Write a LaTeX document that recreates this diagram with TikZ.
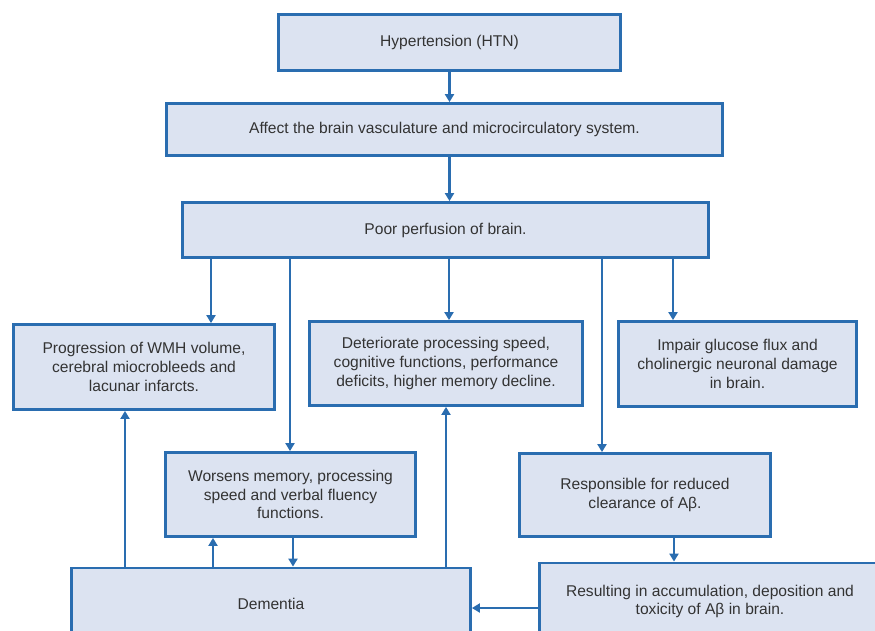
\documentclass[tikz,border=0pt]{standalone}
\usepackage{fontspec}
\setmainfont{Liberation Sans}
\usetikzlibrary{arrows.meta}
\definecolor{bord}{HTML}{2A6DB0}
\definecolor{fillc}{HTML}{DCE3F1}
\definecolor{txt}{HTML}{333333}
\begin{document}
\begin{tikzpicture}[x=1pt,y=-1pt,
  box/.style={draw=bord, fill=fillc, line width=2.8pt, text=txt, align=center,
    font=\fontsize{15.6}{18.8}\selectfont, inner sep=0pt},
  arr/.style={draw=bord, line width=2.8pt, -{Triangle[length=8pt,width=9pt]}}]
\useasboundingbox (0,0) rectangle (875,630);
\clip (0,0) rectangle (875,630);
\node[box, minimum width=342pt, minimum height=56pt] (htn) at (449.5,42.5) {Hypertension (HTN)};
\node[box, minimum width=556pt, minimum height=52pt] (aff) at (444.5,129.5) {Affect the brain vasculature  and microcirculatory  system.};
\node[box, minimum width=526pt, minimum height=55pt] (poor) at (445.5,230) {Poor perfusion of brain.};
\node[box, minimum width=261pt, minimum height=85pt] (prog) at (144,367) {Progression of WMH volume,\\cerebral miocrobleeds and\\lacunar  infarcts.};
\node[box, minimum width=273pt, minimum height=84pt] (det) at (446,363.5) {Deteriorate processing speed,\\cognitive functions,  performance\\deficits, higher memory decline.};
\node[box, minimum width=238pt, minimum height=85pt] (imp) at (737.5,364) {Impair glucose flux  and\\cholinergic neuronal  damage\\in brain.};
\node[box, minimum width=250pt, minimum height=84pt] (wor) at (290.5,494.5) {Worsens memory, processing\\speed and verbal fluency\\functions.};
\node[box, minimum width=251pt, minimum height=83pt] (resp) at (645,495) {Responsible for reduced\\clearance of Aβ.};
\node[box, minimum width=399pt, minimum height=72pt] (dem) at (271,604) {Dementia};
\node[box, minimum width=341pt, minimum height=77pt] (res) at (710,601.5) {Resulting  in accumulation,  deposition and\\toxicity  of Aβ in brain.};
% connectors
\draw[arr] (htn.south) -- (htn.south |- aff.north);
\draw[arr] (htn.south |- aff.south) -- (htn.south |- poor.north);
\draw[arr] ([xshift=-234.5]poor.south) coordinate (s1) -- (s1 |- prog.north);
\draw[arr] ([xshift=-155.5]poor.south) coordinate (s2) -- (s2 |- wor.north);
\draw[arr] ([xshift=3.5]poor.south) coordinate (s3) -- (s3 |- det.north);
\draw[arr] ([xshift=156.5]poor.south) coordinate (s4) -- (s4 |- resp.north);
\draw[arr] ([xshift=227.5]poor.south) coordinate (s5) -- (s5 |- imp.north);
\draw[arr] ([xshift=29]resp.south) coordinate (s6) -- (s6 |- res.north);
\draw[arr] ([yshift=-6.5]res.west) coordinate (s7) -- (s7 -| dem.east);
\draw[arr] ([xshift=-146]dem.north) coordinate (s8) -- (s8 |- prog.south);
\draw[arr] ([xshift=-58]dem.north) coordinate (s9) -- (s9 |- wor.south);
\draw[arr] ([xshift=2.5]wor.south) coordinate (s10) -- (s10 |- dem.north);
\draw[arr] ([xshift=175]dem.north) coordinate (s11) -- (s11 |- det.south);
\end{tikzpicture}
\end{document}
